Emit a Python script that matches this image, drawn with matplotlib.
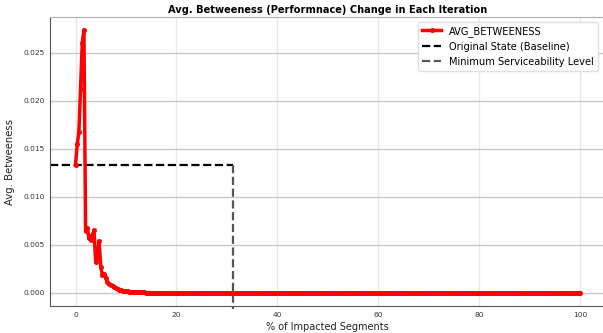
import matplotlib
matplotlib.use("Agg")
import matplotlib.pyplot as plt
import numpy as np

# % of segments impacted after each iteration (300 iterations -> 1/3 % steps)
n_steps = 300
pct_impacted = np.linspace(0, 100, n_steps + 1)

# avg betweenness for the first 20 % of removals
avg_betweeness_head = [
    0.0133, 0.01545, 0.01673, 0.02125, 0.02597, 0.02735,
    0.0064, 0.0068, 0.0057, 0.0055, 0.0060, 0.0065,
    0.0032, 0.0037, 0.0054, 0.0027, 0.0019, 0.0020,
    0.0016, 0.0011, 0.0009, 0.0008, 0.0007, 0.0006,
    0.0005, 0.0004, 0.00035, 0.0003, 0.00025, 0.0002,
    0.00018, 0.00016, 0.00014, 0.00012, 0.0001, 0.00009,
    0.00008, 0.00007, 0.00006, 0.00006, 0.00005, 0.00005,
    0.00004, 0.00004, 0.00004, 0.00003, 0.00003, 0.00003,
    0.00003, 0.00002, 0.00002, 0.00002, 0.00002, 0.00002,
    0.00002, 0.00002, 0.00001, 0.00001, 0.00001, 0.00001,
]
# after that the network is basically broken up, values stay ~0
avg_betweeness_tail = [0.00001] * (n_steps + 1 - len(avg_betweeness_head))
avg_betweeness = avg_betweeness_head + avg_betweeness_tail

baseline = avg_betweeness[0]
min_service_pct = 31.3

fig = plt.figure()
fig.set_size_inches(6.03, 3.33)
ax = fig.add_axes([50.3 / 603, 27 / 333, 554.9 / 603, 289 / 333])

ax.plot(pct_impacted, avg_betweeness, color="red", lw=2.5, marker="o",
        markersize=3.6, markeredgewidth=0, label="AVG_BETWEENESS", zorder=3)

xmin, xmax = ax.get_xlim()
ymin, ymax = ax.get_ylim()

ax.plot([xmin, min_service_pct], [baseline, baseline], color="black", ls="--",
        lw=1.6, label="Original State (Baseline)", scalex=False, scaley=False)
ax.plot([min_service_pct, min_service_pct], [baseline, ymin - 0.0003],
        color="#555555", ls="--", lw=1.6, clip_on=False,
        label="Minimum Serviceability Level", scalex=False, scaley=False)
ax.set_xlim(xmin, xmax)
ax.set_ylim(ymin, ymax)

# grid: darker horizontal lines, faint vertical ones
ax.yaxis.grid(True, color="#c8c8c8", lw=1)
ax.xaxis.grid(True, color="#e8e8e8", lw=1)
ax.set_axisbelow(True)

for side in ["left", "bottom"]:
    ax.spines[side].set_color("#555555")
ax.spines["top"].set_color("#b0b0b0")
ax.spines["right"].set_visible(False)

ax.tick_params(length=0, labelsize=5.4, labelcolor="#333333", pad=4)
ax.set_xticks([0, 20, 40, 60, 80, 100])
ax.set_yticks([0.0, 0.005, 0.010, 0.015, 0.020, 0.025])
ax.yaxis.set_major_formatter(matplotlib.ticker.FormatStrFormatter("%.3f"))

ax.set_title("Avg. Betweeness (Performnace) Change in Each Iteration",
             fontsize=7.1, fontweight="bold", pad=3)
ax.set_xlabel("% of Impacted Segments", fontsize=7.0, color="#222222", labelpad=3)
ax.set_ylabel("Avg. Betweeness", fontsize=7.3, color="#222222", labelpad=6)

ax.legend(loc="upper right", fontsize=7.1, frameon=True, framealpha=1,
          edgecolor="#e0e0e0", borderaxespad=0, bbox_to_anchor=(0.987, 0.983))

plt.savefig("out.png", dpi=100)
